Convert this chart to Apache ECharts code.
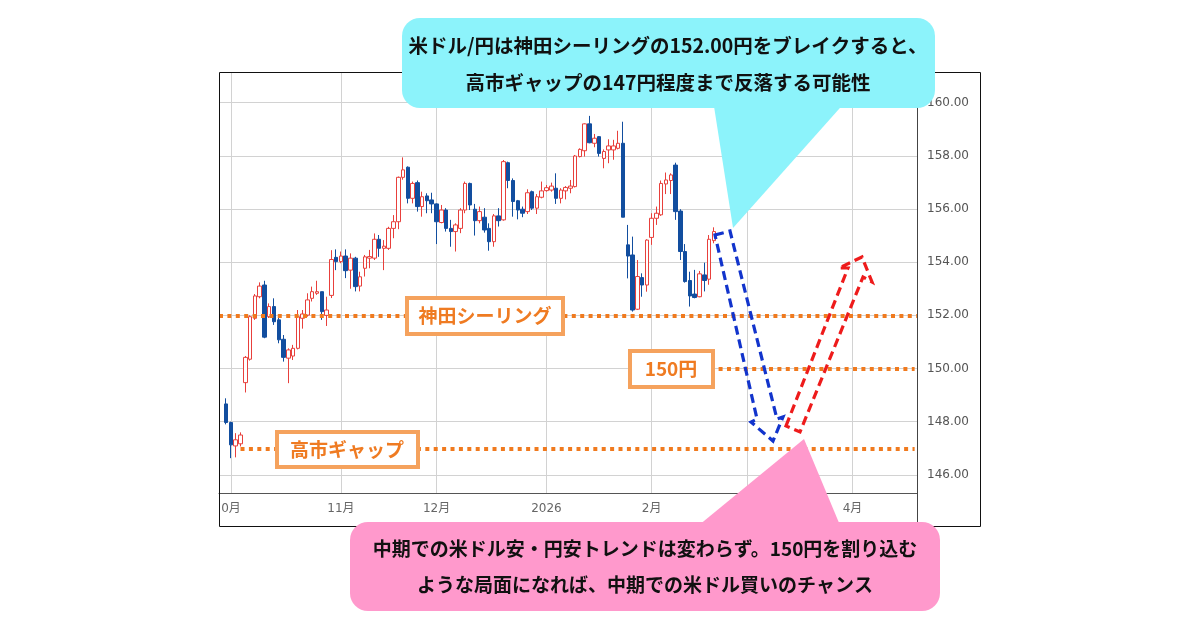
<!DOCTYPE html>
<html>
<head>
<meta charset="utf-8">
<script src="https://cdn.jsdelivr.net/npm/echarts@6/dist/echarts.min.js"></script>
<style>html,body{margin:0;padding:0;background:#fff}#c{width:1200px;height:630px}</style>
</head>
<body>
<div id="c"></div>
<script>
// ---- data (USD/JPY daily candles) ----
const opens = [148.67,147.97,147.09,147.17,149.47,150.35,151.89,152.70,153.14,151.95,
152.33,151.83,151.10,150.39,150.47,150.76,151.89,152.01,152.64,152.83,
152.89,152.00,152.75,154.18,154.02,154.23,153.70,154.15,153.10,153.77,
154.15,154.15,154.86,154.52,154.52,155.27,155.52,157.19,157.57,156.40,
156.99,156.09,156.49,156.34,156.19,155.49,155.96,155.27,155.15,155.27,
155.96,156.96,155.99,155.56,155.69,155.27,154.77,155.74,155.59,157.74,
157.07,156.31,155.99,155.90,156.65,156.03,156.44,156.69,156.71,156.78,
156.40,156.68,156.78,156.84,157.97,158.19,159.20,158.47,158.72,157.90,
158.22,158.22,158.28,158.47,154.65,154.27,152.23,153.42,153.14,154.93,
155.65,155.78,156.94,157.07,157.65,155.92,154.40,153.31,152.80,152.70,
153.52,153.36,154.81];
const closes = [147.97,147.13,147.32,147.50,150.42,151.95,152.73,153.10,151.18,152.33,
151.76,151.08,150.42,150.70,150.76,151.95,152.05,152.58,152.89,152.89,
152.14,152.20,154.10,154.02,154.23,153.68,154.15,153.08,153.45,154.20,
154.21,154.86,154.52,154.60,155.27,155.52,157.19,157.47,156.40,156.96,
156.09,156.46,156.31,156.19,155.52,155.96,155.27,155.15,155.40,155.96,
156.96,156.15,155.56,155.90,155.21,154.77,155.74,155.56,157.78,157.07,
156.28,155.96,155.84,156.61,156.03,156.46,156.68,156.80,156.86,156.40,
156.71,156.81,156.86,157.99,158.24,159.20,158.49,158.66,158.09,158.16,
158.37,158.37,158.47,155.69,154.23,152.20,153.46,153.14,154.83,155.65,
155.84,156.96,157.09,157.28,155.90,154.40,153.27,152.73,152.67,153.56,
153.31,154.86,155.15];
const lows = [147.90,146.63,146.66,147.07,149.10,150.30,151.83,152.64,151.14,151.90,
151.64,150.95,150.26,149.45,150.32,150.72,151.50,151.95,152.52,152.77,
151.83,151.60,152.65,153.70,153.96,153.40,153.00,152.90,152.90,153.46,
153.77,154.08,154.20,153.70,154.46,154.90,155.24,157.10,156.21,156.21,
155.90,155.71,155.84,155.84,154.68,155.46,155.15,154.58,154.40,155.09,
155.84,155.96,155.00,155.46,155.11,154.43,154.58,155.34,155.56,156.78,
155.71,155.61,155.69,155.81,155.96,155.81,156.40,156.65,156.65,156.19,
156.21,156.36,156.59,156.81,157.94,157.97,158.47,158.32,157.97,157.53,
157.72,157.85,158.24,155.69,153.39,152.14,152.20,152.70,152.89,154.65,
155.40,155.74,156.56,156.56,155.59,154.08,153.23,152.33,152.64,152.68,
152.90,153.15,154.71];
const highs = [148.88,148.00,147.57,147.60,150.47,152.00,152.80,153.24,153.30,152.45,
152.64,151.95,151.26,150.76,150.89,152.20,152.20,152.83,153.08,153.30,
152.89,152.70,154.45,154.48,154.40,154.48,154.33,154.20,153.64,154.27,
154.46,155.08,155.02,154.83,155.33,155.77,157.22,157.94,157.60,157.03,
157.07,156.65,156.59,156.61,156.21,156.15,156.03,155.59,155.46,156.03,
157.03,156.99,156.19,156.09,156.03,155.46,155.81,156.03,157.84,157.78,
157.15,156.34,156.09,156.74,156.69,156.56,157.03,156.90,156.99,157.34,
156.78,156.86,157.09,158.03,158.28,159.22,159.50,158.82,158.74,158.24,
158.62,158.60,158.94,159.28,155.40,154.96,154.08,153.58,154.86,155.84,
156.09,157.07,157.37,157.34,157.74,155.99,154.68,153.64,153.71,153.67,
153.98,155.02,155.31];
const yTicks = [146, 148, 150, 152, 154, 156, 158, 160];
const monthTicks = ['2025-10-01','2025-11-03','2025-12-01','2026-01-01','2026-02-02','2026-03-02','2026-04-01'];
const monthLabels = ['0月','11月','12月','2026','2月','3月','4月'];
const ceilingLevel = 152;   // 神田シーリング
const midLevel = 150;       // 150円
const gapLevel = 147;       // 高市ギャップ
const midStart = '2026-02-20';
const gapStart = '2025-10-03';

// ---- weekday category axis (Sep 29 2025 .. Apr 20 2026) ----
const axisDates = [];
(function () {
  const d = new Date(Date.UTC(2025, 8, 29));
  while (axisDates.length < 146) {
    const w = d.getUTCDay();
    if (w !== 0 && w !== 6) axisDates.push(d.toISOString().slice(0, 10));
    d.setUTCDate(d.getUTCDate() + 1);
  }
})();
const lastDate = axisDates[axisDates.length - 1];
const dates = axisDates.slice(1, 1 + opens.length);
const candles = dates.map((d, i) => [d, opens[i], closes[i], lows[i], highs[i]]);

const JP = '"Noto Sans CJK JP", sans-serif';
const orangeLine = { color: '#F07A1E', width: 4, type: [4, 4.4], cap: 'butt' };

const gridMarks = yTicks.map(v => ({
  yAxis: v,
  label: { show: true, position: 'end', distance: 10, formatter: p => Number(p.value).toFixed(2),
           color: '#555', fontSize: 12, fontFamily: 'DejaVu Sans' }
})).concat(monthTicks.map(d => ({ xAxis: d, label: { show: false } })));

function txt(text, x, y, fill, size) {
  return { type: 'text', z: 120, silent: true,
    style: { text: text, x: x, y: y, align: 'center', verticalAlign: 'middle', fill: fill,
             font: 'bold ' + size + 'px ' + JP } };
}
function box(x, y, w, h) {
  return { type: 'rect', z: 110, silent: true, shape: { x: x, y: y, width: w, height: h },
           style: { fill: '#fff', stroke: '#F5A25D', lineWidth: 4 } };
}

const chart = echarts.init(document.getElementById('c'));
chart.setOption({
  animation: false,
  backgroundColor: '#fff',
  grid: { left: 219, right: 283, top: 72, bottom: 137, containLabel: false },
  xAxis: {
    type: 'category', data: axisDates, boundaryGap: true,
    axisLine: { show: true, lineStyle: { color: '#555', width: 1 } },
    axisTick: { show: false },
    splitLine: { show: false },
    axisLabel: {
      interval: (i, v) => monthTicks.indexOf(v) >= 0,
      formatter: v => monthLabels[monthTicks.indexOf(v)],
      color: '#666', fontSize: 12, margin: 10, fontFamily: 'DejaVu Sans, "Noto Sans CJK JP"'
    }
  },
  yAxis: {
    type: 'value', position: 'right', min: 145.32, max: 161.15, scale: true,
    axisLine: { show: false }, axisTick: { show: false }, axisLabel: { show: false }, splitLine: { show: false }
  },
  series: [
    {
      type: 'line', data: [], z: 1, silent: true,
      markLine: {
        z: 1, silent: true, symbol: ['none', 'none'], animation: false,
        label: { show: false },
        lineStyle: { color: '#d2d2d2', type: 'solid', width: 1 },
        emphasis: { disabled: true },
        data: gridMarks
      }
    },
    {
      type: 'candlestick', data: candles, encode: { x: 0, y: [1, 2, 3, 4] },
      barWidth: 4, z: 3, silent: true,
      itemStyle: { color: '#ffffff', color0: '#124E9F', borderColor: '#E8403C', borderColor0: '#124E9F', borderWidth: 1 },
      markLine: {
        silent: true, symbol: ['none', 'none'], animation: false,
        label: { show: false }, lineStyle: orangeLine, emphasis: { disabled: true },
        data: [
          { yAxis: ceilingLevel },
          [{ coord: [midStart, midLevel] }, { coord: [lastDate, midLevel] }],
          [{ coord: [gapStart, gapLevel] }, { coord: [lastDate, gapLevel] }]
        ]
      }
    }
  ],
  graphic: [
    { type: 'rect', z: 70, silent: true, shape: { x: 219.5, y: 72.5, width: 761, height: 454 },
      style: { fill: 'none', stroke: '#111', lineWidth: 1 } },
    { type: 'line', z: 70, silent: true, shape: { x1: 917.5, y1: 72, x2: 917.5, y2: 527 },
      style: { stroke: '#444', lineWidth: 1 } },

    box(407, 298, 156, 36), txt('神田シーリング', 485, 316, '#EF7B22', 19),
    box(630, 351, 83, 36), txt('150円', 671, 369, '#EF7B22', 19),
    box(277, 432, 141, 35), txt('高市ギャップ', 347, 449.5, '#EF7B22', 19),

    { type: 'polygon', z: 105, silent: true,
      shape: { points: [[715,235],[730,231],[777,419],[783,417],[773,441],[751,422],[757,419]] },
      style: { fill: 'none', stroke: '#1234CC', lineWidth: 3.2, lineDash: [9, 5] } },
    { type: 'polygon', z: 105, silent: true,
      shape: { points: [[786,426],[848,268],[839,268],[862,257],[872,282],[863,277],[800,432]] },
      style: { fill: 'none', stroke: '#EE1B1B', lineWidth: 3.2, lineDash: [9, 5] } },

    { type: 'rect', z: 100, silent: true, shape: { x: 402, y: 18, width: 533, height: 90, r: 18 }, style: { fill: '#8CF3FB' } },
    { type: 'polygon', z: 100, silent: true, shape: { points: [[713,100],[847,100],[733,228]] }, style: { fill: '#8CF3FB' } },
    txt('米ドル/円は神田シーリングの152.00円をブレイクすると、', 668, 46, '#111', 19.5),
    txt('高市ギャップの147円程度まで反落する可能性', 668, 83, '#111', 19.5),

    { type: 'rect', z: 100, silent: true, shape: { x: 350, y: 522, width: 590, height: 89, r: 18 }, style: { fill: '#FF99CC' } },
    { type: 'polygon', z: 100, silent: true, shape: { points: [[693,530],[842,530],[804,439]] }, style: { fill: '#FF99CC' } },
    txt('中期での米ドル安・円安トレンドは変わらず。150円を割り込む', 645, 549, '#111', 19),
    txt('ような局面になれば、中期での米ドル買いのチャンス', 645, 585, '#111', 19)
  ]
});
</script>
</body>
</html>
